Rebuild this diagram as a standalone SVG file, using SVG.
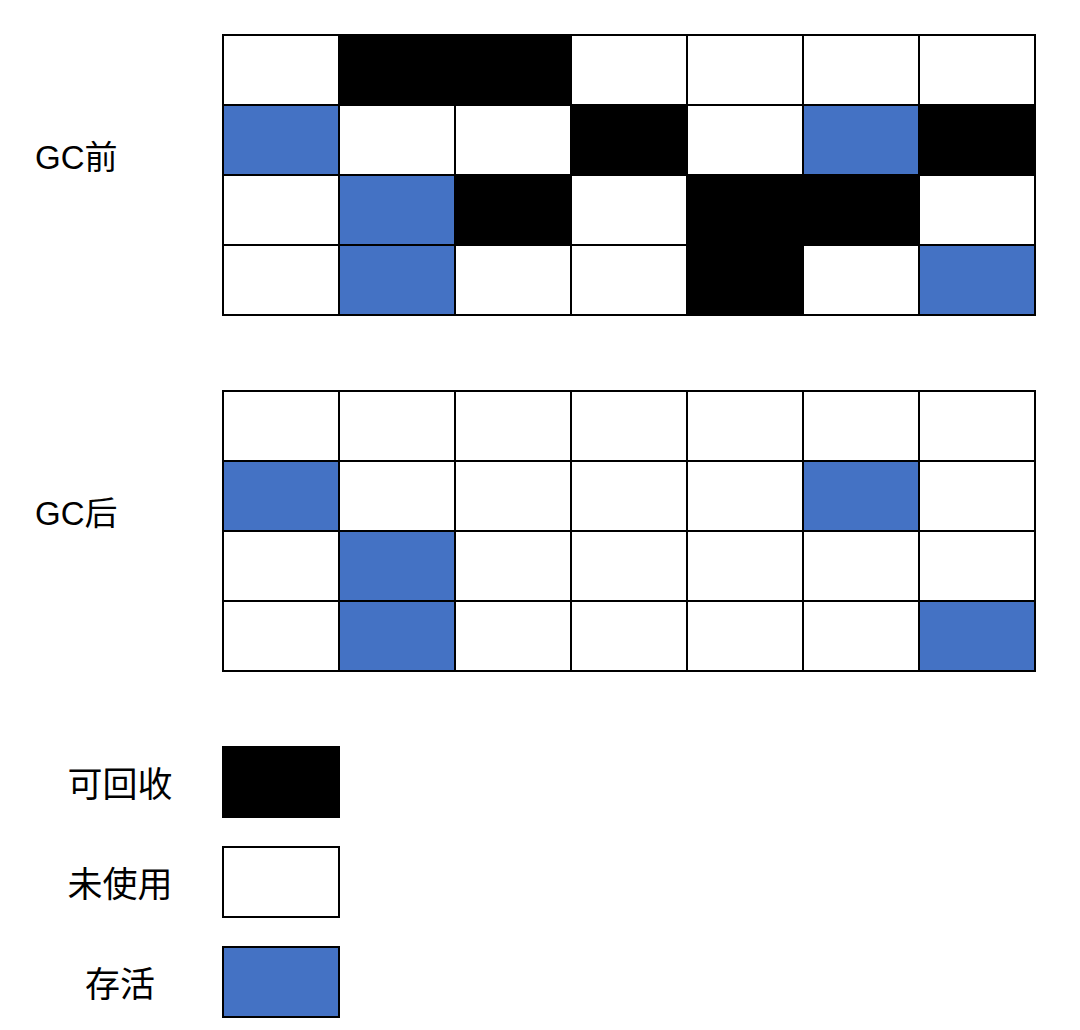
<svg xmlns="http://www.w3.org/2000/svg" width="1080" height="1030" viewBox="0 0 1080 1030">
<style>
.w{fill:#FFFFFF;stroke:#000000;stroke-width:2}
.b{fill:#000000;stroke:#000000;stroke-width:2}
.l{fill:#4472C4;stroke:#000000;stroke-width:2}
.t{font-family:"Liberation Sans","Noto Sans CJK SC",sans-serif;fill:#000000}
</style>
<rect x="0" y="0" width="1080" height="1030" fill="#FFFFFF"/>
<g id="label-before"><text class="t" x="35" y="169" font-size="33">GC前</text></g>
<g id="label-after"><text class="t" x="35" y="525" font-size="33">GC后</text></g>
<g id="grid-before">
<rect class="w" x="223" y="35" width="116" height="70"/>
<rect class="b" x="339" y="35" width="232" height="70"/>
<rect class="w" x="571" y="35" width="116" height="70"/>
<rect class="w" x="687" y="35" width="116" height="70"/>
<rect class="w" x="803" y="35" width="116" height="70"/>
<rect class="w" x="919" y="35" width="116" height="70"/>
<rect class="l" x="223" y="105" width="116" height="70"/>
<rect class="w" x="339" y="105" width="116" height="70"/>
<rect class="w" x="455" y="105" width="116" height="70"/>
<rect class="b" x="571" y="105" width="116" height="70"/>
<rect class="w" x="687" y="105" width="116" height="70"/>
<rect class="l" x="803" y="105" width="116" height="70"/>
<rect class="b" x="919" y="105" width="116" height="70"/>
<rect class="w" x="223" y="175" width="116" height="70"/>
<rect class="l" x="339" y="175" width="116" height="70"/>
<rect class="b" x="455" y="175" width="116" height="70"/>
<rect class="w" x="571" y="175" width="116" height="70"/>
<rect class="b" x="687" y="175" width="232" height="70"/>
<rect class="w" x="919" y="175" width="116" height="70"/>
<rect class="w" x="223" y="245" width="116" height="70"/>
<rect class="l" x="339" y="245" width="116" height="70"/>
<rect class="w" x="455" y="245" width="116" height="70"/>
<rect class="w" x="571" y="245" width="116" height="70"/>
<rect class="b" x="687" y="245" width="116" height="70"/>
<rect class="w" x="803" y="245" width="116" height="70"/>
<rect class="l" x="919" y="245" width="116" height="70"/>
</g>
<g id="grid-after">
<rect class="w" x="223" y="391" width="116" height="70"/>
<rect class="w" x="339" y="391" width="116" height="70"/>
<rect class="w" x="455" y="391" width="116" height="70"/>
<rect class="w" x="571" y="391" width="116" height="70"/>
<rect class="w" x="687" y="391" width="116" height="70"/>
<rect class="w" x="803" y="391" width="116" height="70"/>
<rect class="w" x="919" y="391" width="116" height="70"/>
<rect class="l" x="223" y="461" width="116" height="70"/>
<rect class="w" x="339" y="461" width="116" height="70"/>
<rect class="w" x="455" y="461" width="116" height="70"/>
<rect class="w" x="571" y="461" width="116" height="70"/>
<rect class="w" x="687" y="461" width="116" height="70"/>
<rect class="l" x="803" y="461" width="116" height="70"/>
<rect class="w" x="919" y="461" width="116" height="70"/>
<rect class="w" x="223" y="531" width="116" height="70"/>
<rect class="l" x="339" y="531" width="116" height="70"/>
<rect class="w" x="455" y="531" width="116" height="70"/>
<rect class="w" x="571" y="531" width="116" height="70"/>
<rect class="w" x="687" y="531" width="116" height="70"/>
<rect class="w" x="803" y="531" width="116" height="70"/>
<rect class="w" x="919" y="531" width="116" height="70"/>
<rect class="w" x="223" y="601" width="116" height="70"/>
<rect class="l" x="339" y="601" width="116" height="70"/>
<rect class="w" x="455" y="601" width="116" height="70"/>
<rect class="w" x="571" y="601" width="116" height="70"/>
<rect class="w" x="687" y="601" width="116" height="70"/>
<rect class="w" x="803" y="601" width="116" height="70"/>
<rect class="l" x="919" y="601" width="116" height="70"/>
</g>
<g id="legend-reclaimable">
<rect class="b" x="223" y="747" width="116" height="70"/>
<text class="t" x="120" y="797" font-size="35" text-anchor="middle">可回收</text>
</g>
<g id="legend-unused">
<rect class="w" x="223" y="847" width="116" height="70"/>
<text class="t" x="120" y="897" font-size="35" text-anchor="middle">未使用</text>
</g>
<g id="legend-alive">
<rect class="l" x="223" y="947" width="116" height="70"/>
<text class="t" x="120" y="997" font-size="35" text-anchor="middle">存活</text>
</g>
</svg>
